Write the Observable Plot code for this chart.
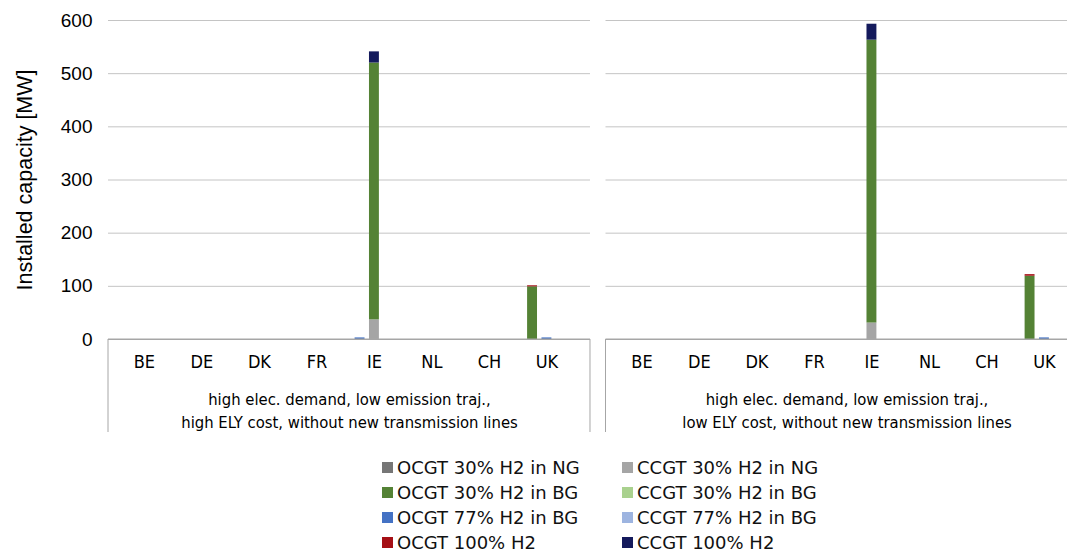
<!DOCTYPE html>
<html><head><meta charset="utf-8">
<script src="https://cdn.jsdelivr.net/npm/d3@7"></script>
<script src="https://cdn.jsdelivr.net/npm/@observablehq/plot@0.6"></script>
<style>
html,body{margin:0;padding:0;background:#fff;overflow:hidden;width:1067px;}
#chart svg{display:block;overflow:hidden}
.legend{display:grid;grid-template-columns:240px 240px;margin:15px 0 0 382px;font-family:"DejaVu Sans",sans-serif;font-size:18px;color:#111;width:480px}
.item{display:flex;align-items:center;height:25px;white-space:nowrap}
.sw{width:11px;height:11px;margin-right:4px;flex:none}
</style></head><body><div id="chart"></div><div class="legend" id="legend"></div>
<script>
const scenarioLabels = [
  "high elec. demand, low emission traj.,\nhigh ELY cost, without new transmission lines",
  "high elec. demand, low emission traj.,\nlow ELY cost, without new transmission lines"
];
const countries = ["BE","DE","DK","FR","IE","NL","CH","UK"];
const slots = ["1","2","3","4"];
const labelSlot = "3";
const technologies = [
  "OCGT 30% H2 in NG","CCGT 30% H2 in NG",
  "OCGT 30% H2 in BG","CCGT 30% H2 in BG",
  "OCGT 77% H2 in BG","CCGT 77% H2 in BG",
  "OCGT 100% H2","CCGT 100% H2"
];
const techColors = ["#767676","#a5a5a5","#548235","#a9d18e","#4472c4","#9db4e0","#a50f15","#141a5c"];
const yTicks = [0,100,200,300,400,500,600];
const yTitle = "Installed capacity [MW]";

// [country, sub-bar, technology, MW]
const highCostBars = [
  ["IE","2","OCGT 77% H2 in BG",3],
  ["IE","3","CCGT 30% H2 in NG",37],
  ["IE","3","OCGT 30% H2 in BG",483],
  ["IE","3","CCGT 100% H2",21],
  ["UK","2","OCGT 30% H2 in BG",99],
  ["UK","2","OCGT 100% H2",2],
  ["UK","3","OCGT 77% H2 in BG",3]
];
const lowCostBars = [
  ["IE","3","CCGT 30% H2 in NG",31],
  ["IE","3","OCGT 30% H2 in BG",532],
  ["IE","3","CCGT 100% H2",30],
  ["UK","2","OCGT 30% H2 in BG",119],
  ["UK","2","OCGT 100% H2",3],
  ["UK","3","OCGT 77% H2 in BG",3]
];

const rows = [];
[highCostBars, lowCostBars].forEach((arr, i) =>
  arr.forEach(([c, s, tech, v]) => rows.push({scenario: scenarioLabels[i], key: c + "|" + s, tech, value: v})));
const xDomain = countries.flatMap(c => slots.map(s => c + "|" + s));
const narrow = "'Liberation Sans Narrow','Arial Narrow','DejaVu Sans Condensed',sans-serif";

const H = 440;
const chart = Plot.plot({
  width: 1067, height: H,
  marginLeft: 108, marginRight: 0, marginTop: 20, marginBottom: 101,
  style: {fontFamily: "'Liberation Sans', Arial, sans-serif", fontSize: "18px", color: "#000", background: "#fff"},
  fx: {domain: scenarioLabels, range: [108, 1087.5], paddingInner: 0.0312, paddingOuter: 0, round: false},
  x: {type: "band", domain: xDomain, paddingInner: 0.31, paddingOuter: 0.155, insetLeft: 0, insetRight: 22, round: false},
  y: {domain: [0, 600]},
  color: {domain: technologies, range: techColors},
  marks: [
    Plot.gridY(yTicks, {stroke: "#c4c4c4", strokeOpacity: 1}),
    Plot.ruleY([0], {stroke: "#a6a6a6"}),
    Plot.barY(rows, {fx: "scenario", x: "key", y: "value", fill: "tech", order: technologies}),
    Plot.axisY(yTicks, {tickSize: 0, tickPadding: 16, fontSize: 19, label: null}),
    Plot.text([yTitle], {text: d => d, frameAnchor: "left", textAnchor: "middle", lineAnchor: "middle", rotate: -90, dx: -83, fontSize: 21.5, facetAnchor: "left"}),
    Plot.axisX({tickSize: 0, tickPadding: 16, fontSize: 18, fontFamily: narrow, label: null,
      tickFormat: d => { const [c, s] = d.split("|"); return s === labelSlot ? c : ""; }}),
    Plot.axisFx({anchor: "bottom", tickSize: 0, tickPadding: 49, fontSize: 16.5, fontFamily: narrow, lineHeight: 1.4, label: null})
  ]
});
document.getElementById("chart").appendChild(chart);

// category-axis boxes below each panel
const fx = chart.scale("fx"), y = chart.scale("y");
const svg = d3.select(chart);
scenarioLabels.forEach(s => {
  const x0 = fx.apply(s), x1 = x0 + fx.bandwidth, y0 = y.apply(0), y1 = H - 8;
  svg.append("path").attr("d", `M${x0},${y1}V${y0}H${x1}V${y1}`)
    .attr("fill", "none").attr("stroke", "#a6a6a6").attr("stroke-width", 1);
});

// legend
const legend = d3.select("#legend");
technologies.forEach((t, i) => {
  const it = legend.append("div").attr("class", "item");
  it.append("span").attr("class", "sw").style("background", techColors[i]);
  it.append("span").text(t);
});
</script></body></html>
